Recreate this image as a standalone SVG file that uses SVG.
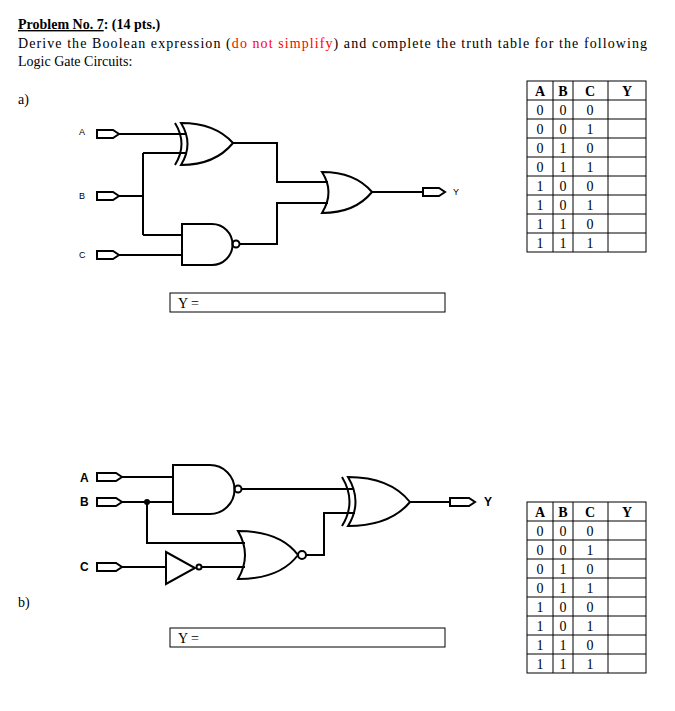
<svg xmlns="http://www.w3.org/2000/svg" width="675" height="711" viewBox="0 0 675 711">
<style>
.t{font-family:"Liberation Serif",serif;font-size:14px;fill:#000}
.g{fill:none;stroke:#000;stroke-width:2}
.w{fill:none;stroke:#000;stroke-width:2}
.tb{fill:none;stroke:#000;stroke-width:1}
.tt{font-family:"Liberation Serif",serif;font-size:14px;text-anchor:middle}
.la{font-family:"Liberation Sans",sans-serif;font-size:9px}
.lb{font-family:"Liberation Sans",sans-serif;font-size:12px;font-weight:bold}
</style>
<rect width="675" height="711" fill="#fff"/>
<g id="header">
<text class="t" x="18" y="29" font-weight="bold"><tspan text-decoration="underline">Problem No. 7</tspan>: (14 pts.)</text>
<text class="t" x="18" y="48" textLength="629" lengthAdjust="spacing">Derive the Boolean expression (<tspan fill="#f00">do not simplify</tspan>) and complete the truth table for the following</text>
<text class="t" x="18" y="66">Logic Gate Circuits:</text>
<text class="t" x="18" y="104">a)</text>
<text class="t" x="18" y="607">b)</text>
</g>
<g id="circuitA">
<text class="la" x="79" y="135">A</text><text class="la" x="79" y="199">B</text><text class="la" x="79" y="258">C</text>
<path class="g" d="M97,130 H113 L119,134 L113,138 H97 Z"/>
<path class="g" d="M97,192 H113 L119,196 L113,200 H97 Z"/>
<path class="g" d="M97,251 H113 L119,255 L113,259 H97 Z"/>
<path class="g" d="M181,123 Q194,144 181,165 Q215,165 233,143 Q215,123 181,123 Z"/>
<path class="g" d="M175,123 Q188,144 175,165"/>
<path class="g" d="M182,224 H212 A20.5,20.5 0 0 1 212,265 H182 Z"/>
<circle class="g" cx="236" cy="244" r="3.5"/>
<path class="g" d="M322,172 Q335,192 322,213 Q355,213 372,192 Q355,172 322,172 Z"/>
<path class="g" d="M423,188 H439 L445,192 L439,196 H423 Z"/>
<text class="la" x="453" y="195">Y</text>
</g>
<g id="connectorsA">
<path class="w" d="M119,134 H186"/>
<path class="w" d="M119,196 H143 M143,153 V235 M143,153 H187 M143,235 H182"/>
<path class="w" d="M119,255 H182"/>
<path class="w" d="M233,143 H277 V182 H328"/>
<path class="w" d="M239.5,244 H277 V203 H328"/>
<path class="w" d="M372,192 H423"/>
</g>
<g id="answerA"><rect class="tb" x="170" y="293" width="275" height="19"/><text class="t" x="178" y="308">Y =</text></g>
<g id="tableA">
<rect class="tb" x="527" y="81" width="119" height="171"/>
<path class="tb" d="M553,81V252M573,81V252M608,81V252M527,100H646M527,119H646M527,138H646M527,157H646M527,176H646M527,195H646M527,214H646M527,233H646"/>
<g class="tt" font-weight="bold"><text x="540" y="96">A</text><text x="563" y="96">B</text><text x="590" y="96">C</text><text x="627" y="96">Y</text></g>
<g class="tt">
<text x="540" y="115">0</text><text x="563" y="115">0</text><text x="590" y="115">0</text>
<text x="540" y="134">0</text><text x="563" y="134">0</text><text x="590" y="134">1</text>
<text x="540" y="153">0</text><text x="563" y="153">1</text><text x="590" y="153">0</text>
<text x="540" y="172">0</text><text x="563" y="172">1</text><text x="590" y="172">1</text>
<text x="540" y="191">1</text><text x="563" y="191">0</text><text x="590" y="191">0</text>
<text x="540" y="210">1</text><text x="563" y="210">0</text><text x="590" y="210">1</text>
<text x="540" y="229">1</text><text x="563" y="229">1</text><text x="590" y="229">0</text>
<text x="540" y="248">1</text><text x="563" y="248">1</text><text x="590" y="248">1</text>
</g>
</g>
<g id="circuitB">
<text class="lb" x="80" y="482">A</text><text class="lb" x="80" y="506">B</text><text class="lb" x="80" y="571">C</text>
<path class="g" d="M97,473 H116 L122,477 L116,481 H97 Z"/>
<path class="g" d="M97,498 H116 L122,502 L116,506 H97 Z"/>
<path class="g" d="M97,563 H116 L122,567 L116,571 H97 Z"/>
<path class="g" d="M173,465 H210 A24.5,24.5 0 0 1 210,514 H173 Z"/>
<circle class="g" cx="238" cy="489" r="3.5"/>
<path class="g" d="M348,477 Q363,502 348,526 Q390,526 410,502 Q390,477 348,477 Z"/>
<path class="g" d="M342,477 Q357,502 342,526"/>
<path class="g" d="M166,552 L195,568 L166,584 Z"/>
<circle class="g" cx="199" cy="567" r="2.5"/>
<path class="g" d="M238,531 Q252,555 238,579 Q280,579 298,555 Q280,531 238,531 Z"/>
<circle class="g" cx="302" cy="555" r="4"/>
<path class="g" d="M450,498 H469 L475,502 L469,506 H450 Z"/>
<text class="lb" x="484" y="506">Y</text>
</g>
<g id="connectorsB">
<path class="w" d="M122,477 H173"/>
<path class="w" d="M122,502 H173 M147,502 V543 H245"/>
<circle cx="147" cy="502" r="3" fill="#000"/>
<path class="w" d="M122,567 H166 M201.5,567 H245"/>
<path class="w" d="M241.5,489 H354"/>
<path class="w" d="M306,555 H324 V513 H355"/>
<path class="w" d="M410,502 H450"/>
</g>
<g id="answerB"><rect class="tb" x="170" y="628" width="275" height="19"/><text class="t" x="178" y="643">Y =</text></g>
<g id="tableB">
<rect class="tb" x="527" y="502" width="119" height="171"/>
<path class="tb" d="M553,502V673M573,502V673M608,502V673M527,521H646M527,540H646M527,559H646M527,578H646M527,597H646M527,616H646M527,635H646M527,654H646"/>
<g class="tt" font-weight="bold"><text x="540" y="517">A</text><text x="563" y="517">B</text><text x="590" y="517">C</text><text x="627" y="517">Y</text></g>
<g class="tt">
<text x="540" y="536">0</text><text x="563" y="536">0</text><text x="590" y="536">0</text>
<text x="540" y="555">0</text><text x="563" y="555">0</text><text x="590" y="555">1</text>
<text x="540" y="574">0</text><text x="563" y="574">1</text><text x="590" y="574">0</text>
<text x="540" y="593">0</text><text x="563" y="593">1</text><text x="590" y="593">1</text>
<text x="540" y="612">1</text><text x="563" y="612">0</text><text x="590" y="612">0</text>
<text x="540" y="631">1</text><text x="563" y="631">0</text><text x="590" y="631">1</text>
<text x="540" y="650">1</text><text x="563" y="650">1</text><text x="590" y="650">0</text>
<text x="540" y="669">1</text><text x="563" y="669">1</text><text x="590" y="669">1</text>
</g>
</g>
</svg>
